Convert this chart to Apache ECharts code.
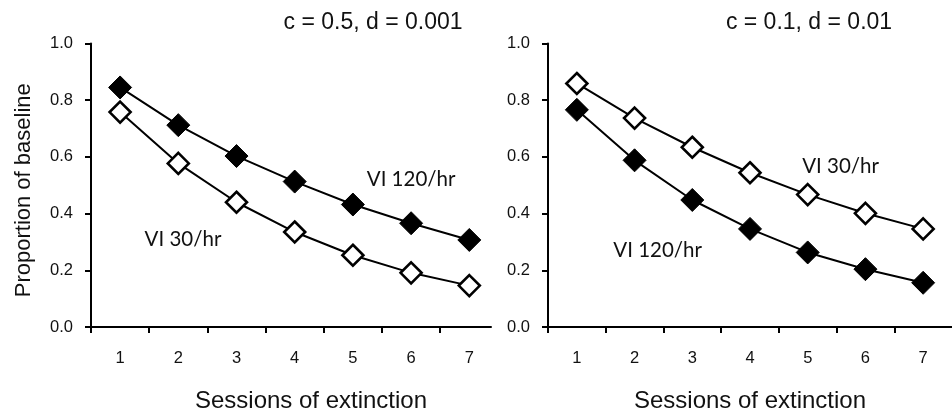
<!DOCTYPE html>
<html>
<head>
<meta charset="utf-8">
<script src="https://cdn.jsdelivr.net/npm/echarts@6/dist/echarts.min.js"></script>
<style>html,body{margin:0;padding:0;background:#fff;}#c{width:952px;height:418px;}</style>
</head>
<body>
<div id="c"></div>
<script>
const sessions = [1, 2, 3, 4, 5, 6, 7];
const tickBounds = [0.5, 1.5, 2.5, 3.5, 4.5, 5.5, 6.5];
const yTicks = [0, 0.2, 0.4, 0.6, 0.8, 1.0];
const panelTitles = ['c = 0.5, d = 0.001', 'c = 0.1, d = 0.01'];
const xAxisTitle = 'Sessions of extinction';
const yAxisTitle = 'Proportion of baseline';
// Left panel
const leftVI120 = [0.845, 0.712, 0.603, 0.513, 0.432, 0.366, 0.307];
const leftVI30  = [0.758, 0.577, 0.440, 0.335, 0.253, 0.191, 0.146];
// Right panel
const rightVI30  = [0.859, 0.737, 0.634, 0.544, 0.467, 0.401, 0.346];
const rightVI120 = [0.766, 0.588, 0.448, 0.346, 0.263, 0.204, 0.156];
const labelVI120 = 'VI 120/hr';
const labelVI30 = 'VI 30/hr';

const AX = 'Liberation Sans, Arial, sans-serif';
const CAL = 'Lato, Carlito, Calibri, sans-serif';

function pts(vals){ return vals.map((v,i)=>[sessions[i], v]); }

function xAx(idx, max, padLeft){
  return {
    type:'value', gridIndex: idx, min: 0.5, max: max,
    axisLine:{show:true, onZero:false, lineStyle:{color:'#000', width:2}},
    axisTick:{show:true, customValues: tickBounds, length:6, lineStyle:{color:'#000', width:2}},
    axisLabel:{customValues: sessions, color:'#111', fontFamily:AX, fontSize:16.5, margin:23},
    splitLine:{show:false},
    name: xAxisTitle, nameLocation:'middle', nameGap:62,
    nameTextStyle:{fontFamily:AX, fontSize:24, color:'#111', padding:[0,0,0,padLeft]}
  };
}
function yAx(idx, withName){
  return {
    type:'value', gridIndex: idx, min:0, max:1, interval:0.2,
    axisLine:{show:true, lineStyle:{color:'#000', width:2}},
    axisTick:{show:true, length:6, lineStyle:{color:'#000', width:2}},
    axisLabel:{color:'#111', fontFamily:AX, fontSize:16.5, margin:18, formatter:v=>v.toFixed(1)},
    splitLine:{show:false},
    name: withName ? yAxisTitle : '', nameLocation:'middle', nameGap:56,
    nameTextStyle:{fontFamily:AX, fontSize:22, color:'#111', padding:[0,0,0,-10]}
  };
}
function ann(a){
  return {symbol:'circle', symbolSize:0, silent:true, animation:false,
    label:{show:true, position:'inside', formatter: a.text, fontFamily:CAL, fontSize:20.5, color:'#111'},
    data:[{coord: a.coord}]};
}
function filled(idx, vals, a){
  return {
    type:'line', xAxisIndex:idx, yAxisIndex:idx, data:pts(vals),
    symbol:'diamond', symbolSize:23, showAllSymbol:true,
    lineStyle:{color:'#000', width:2}, itemStyle:{color:'#000', borderColor:'#000', borderWidth:1},
    z:3, animation:false, markPoint: ann(a)
  };
}
function open(idx, vals, a){
  return {
    type:'line', xAxisIndex:idx, yAxisIndex:idx, data:pts(vals),
    symbol:'diamond', symbolSize:21, showAllSymbol:true,
    lineStyle:{color:'#000', width:2}, itemStyle:{color:'#fff', borderColor:'#000', borderWidth:2.6},
    z:4, animation:false, markPoint: ann(a)
  };
}

const chart = echarts.init(document.getElementById('c'), null, {renderer:'canvas'});
chart.setOption({
  backgroundColor:'#fff',
  animation:false,
  title:[
    {text: panelTitles[0], left:368, top:6, textAlign:'center',
      textStyle:{fontFamily:AX, fontSize:23, fontWeight:'normal', color:'#111'}},
    {text: panelTitles[1], left:804, top:6, textAlign:'center',
      textStyle:{fontFamily:AX, fontSize:23, fontWeight:'normal', color:'#111'}}
  ],
  grid:[
    {left:91, top:43.5, width:400, height:293},
    {left:548, top:43.5, width:407.4, height:293}
  ],
  xAxis:[ xAx(0, 0.5 + 400/58.2, 40), xAx(1, 7.5, 0) ],
  yAxis:[ yAx(0, true), yAx(1, false) ],
  series:[
    open(0, leftVI30, {text: labelVI30, coord:[2.08, 0.31]}),
    filled(0, leftVI120, {text: labelVI120, coord:[6.0, 0.52]}),
    open(1, rightVI30, {text: labelVI30, coord:[5.57, 0.565]}),
    filled(1, rightVI120, {text: labelVI120, coord:[2.4, 0.27]})
  ]
});
</script>
</body>
</html>
